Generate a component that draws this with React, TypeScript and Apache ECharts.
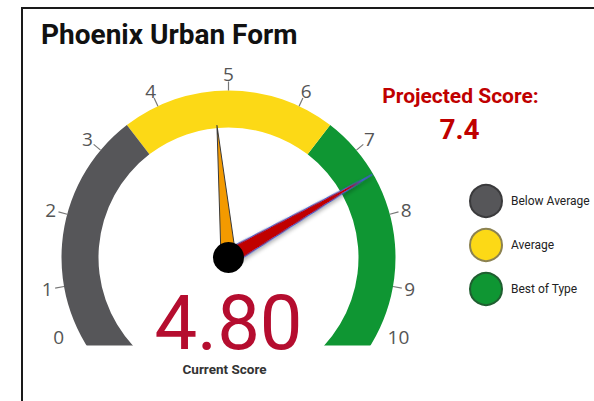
import React, { useEffect, useRef } from 'react';
import * as echarts from 'echarts';

// ---- data ----
const chartTitle = 'Phoenix Urban Form';
const scaleMin = 0;
const scaleMax = 10;
const tickLabels = ['0', '1', '2', '3', '4', '5', '6', '7', '8', '9', '10'];
const bandNames = ['Below Average', 'Average', 'Best of Type'];
const bandUpper = [3.5, 6.5, 10];
const bandColors = ['#565659', '#fcd916', '#0f9633'];
const bandBorders = ['#3a3a3c', '#8c8250', '#1f5e30'];
const currentScoreName = 'Current Score';
const currentScore = 4.8;
const projectedScoreName = 'Projected Score:';
const projectedScore = 7.4;

// ---- layout ----
const FONT = "Roboto, 'Noto Sans', sans-serif";
const LABEL_FONT = "'Open Sans', 'Noto Sans', sans-serif";
const CENTER = [228.5, 257.5];
const R = 167;
const BAND_W = 37;
const SCALE_START = 215;
const SCALE_END = -35;
const BAND_START = 223;
const BAND_END = -43;

function bandStops(): [number, string][] {
  return bandUpper.map((v, i) => {
    const ang = SCALE_START - ((SCALE_START - SCALE_END) * (v - scaleMin)) / (scaleMax - scaleMin);
    const f = i === bandUpper.length - 1 ? 1 : (BAND_START - ang) / (BAND_START - BAND_END);
    return [f, bandColors[i]];
  });
}

function buildOption(): any {
  return {
    animation: false,
    backgroundColor: '#ffffff',
    title: {
      text: chartTitle,
      left: 41,
      top: 20,
      padding: 0,
      textStyle: { fontFamily: FONT, fontWeight: 'bold', fontSize: 28, color: '#111' },
    },
    legend: {
      orient: 'vertical',
      left: 469,
      top: 184,
      padding: 0,
      itemWidth: 32,
      itemHeight: 32,
      itemGap: 10,
      icon: 'circle',
      data: bandNames,
      textStyle: { fontFamily: FONT, fontSize: 12, color: '#222', padding: [0, 0, 0, 4] },
    },
    grid: { left: 0, top: 0, width: 1, height: 1, show: false },
    xAxis: { show: false, type: 'value' },
    yAxis: { show: false, type: 'value' },
    graphic: [
      {
        type: 'rect',
        z: 100,
        shape: { x: 40, y: 345.5, width: 112, height: 60 },
        style: { fill: '#ffffff' },
        silent: true,
      },
      {
        type: 'rect',
        z: 100,
        shape: { x: 305, y: 345.5, width: 115, height: 60 },
        style: { fill: '#ffffff' },
        silent: true,
      },
      {
        type: 'polyline',
        z: 101,
        shape: { points: [[22, 401], [22, 8], [594, 8]] },
        style: { stroke: '#1a1a1a', lineWidth: 2, fill: 'none' },
        silent: true,
      },
    ],
    series: [
      ...bandNames.map((n, i) => ({
        type: 'scatter',
        name: n,
        data: [],
        itemStyle: { color: bandColors[i], borderColor: bandBorders[i], borderWidth: 1.5, opacity: 1 },
      })),
      {
        type: 'gauge',
        center: CENTER,
        radius: R,
        startAngle: BAND_START,
        endAngle: BAND_END,
        min: scaleMin,
        max: scaleMax,
        axisLine: { show: true, lineStyle: { width: BAND_W, color: bandStops() } },
        axisTick: { show: false },
        splitLine: { show: false },
        axisLabel: { show: false },
        pointer: { show: false },
        anchor: { show: false },
        title: { show: false },
        detail: { show: false },
        data: [],
        z: 2,
      },
      {
        type: 'gauge',
        center: CENTER,
        radius: R,
        startAngle: 205,
        endAngle: -25,
        min: scaleMin,
        max: scaleMax,
        splitNumber: 1,
        axisLine: { show: false, lineStyle: { width: 1 } },
        axisTick: { show: false },
        splitLine: { show: false, length: 0, distance: 0 },
        axisLabel: {
          show: true,
          distance: -20.5,
          rotate: 0.0001,
          color: '#555',
          fontSize: 19,
          fontFamily: LABEL_FONT,
          formatter: (v: number) => tickLabels[Math.round(v)],
        },
        pointer: { show: false },
        anchor: { show: false },
        title: { show: false },
        detail: { show: false },
        data: [],
        z: 3,
      },
      {
        type: 'gauge',
        center: CENTER,
        radius: R,
        startAngle: SCALE_START,
        endAngle: SCALE_END,
        min: scaleMin,
        max: scaleMax,
        splitNumber: 10,
        axisLine: { show: false, lineStyle: { width: 1 } },
        axisTick: { show: false },
        splitLine: { show: true, length: 9, distance: -10, lineStyle: { color: '#777', width: 1.2 } },
        axisLabel: {
          show: true,
          distance: -16,
          rotate: 0.0001,
          color: '#555',
          fontSize: 19,
          fontFamily: LABEL_FONT,
          formatter: (v: number) => {
            const k = Math.round(v);
            return k === scaleMin || k === scaleMax ? '' : tickLabels[k];
          },
        },
        pointer: { show: true, icon: 'triangle' },
        anchor: { show: true, showAbove: true, size: 31, itemStyle: { color: '#000' } },
        z: 5,
        data: [
          {
            value: currentScore,
            name: currentScoreName,
            pointer: {
              length: 133,
              width: 15,
              itemStyle: { color: '#f39a00', borderColor: '#3a3a3a', borderWidth: 1 },
            },
            title: {
              offsetCenter: [-4, 111],
              fontFamily: FONT,
              fontWeight: 'bold',
              fontSize: 13.5,
              lineHeight: 14,
              color: '#333',
            },
            detail: {
              offsetCenter: [0, 65.5],
              formatter: (v: number) => v.toFixed(2),
              fontFamily: FONT,
              fontWeight: 'normal',
              fontSize: 76,
              lineHeight: 58,
              width: 170,
              padding: 0,
              color: '#b50d2f',
            },
          },
          {
            value: projectedScore,
            name: projectedScoreName,
            pointer: {
              length: 166,
              width: 16,
              itemStyle: {
                color: '#c00000',
                borderColor: '#3a5fcd',
                borderWidth: 1,
                shadowBlur: 4,
                shadowColor: 'rgba(0,0,0,0.35)',
                shadowOffsetX: 2,
                shadowOffsetY: 2,
              },
            },
            title: {
              offsetCenter: [232, -162],
              fontFamily: FONT,
              fontWeight: 'bold',
              fontSize: 21,
              color: '#c00000',
            },
            detail: {
              offsetCenter: [231, -128],
              formatter: (v: number) => v.toFixed(1),
              fontFamily: FONT,
              fontWeight: 'bold',
              fontSize: 28,
              lineHeight: 28,
              width: 80,
              padding: 0,
              color: '#c00000',
            },
          },
        ],
      },
    ],
  };
}

export default function App() {
  const ref = useRef<HTMLDivElement>(null);
  useEffect(() => {
    if (!ref.current) return;
    const chart = echarts.init(ref.current, undefined, { renderer: 'svg' });
    chart.setOption(buildOption());
    return () => chart.dispose();
  }, []);
  return (
    <div
      ref={ref}
      style={{ position: 'fixed', left: 0, top: 0, width: 594, height: 401, background: '#fff' }}
    />
  );
}
